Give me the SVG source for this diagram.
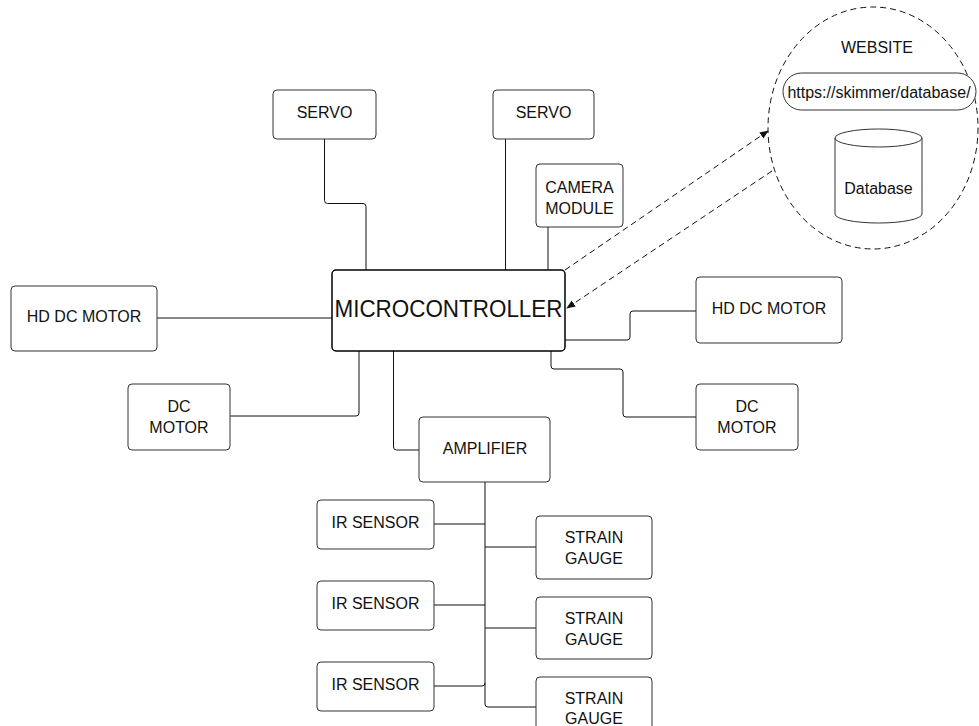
<svg xmlns="http://www.w3.org/2000/svg" width="979" height="726" viewBox="0 0 979 726">
<style>
.box{fill:#fff;stroke:#333;stroke-width:1}
.mc{fill:#fff;stroke:#000;stroke-width:1.5}
.t{font-family:"Liberation Sans",Arial,sans-serif;font-size:16px;fill:#111;text-anchor:middle}
.ln{fill:none;stroke:#111;stroke-width:1;stroke-linejoin:round}
.dash{fill:none;stroke:#111;stroke-width:1;stroke-dasharray:6 4}
</style>
<defs>
<marker id="ah" viewBox="0 0 10 10" refX="9" refY="5" markerWidth="9" markerHeight="9" markerUnits="userSpaceOnUse" orient="auto">
<path d="M0,1 L10,5 L0,9 Z" fill="#111"/>
</marker>
</defs>
<rect width="979" height="726" fill="#fff"/>
<g id="connectors">
<path class="ln" d="M324.5,139 V200.5 Q324.5,203.5 327.5,203.5 H363 Q366,203.5 366,206.5 V270"/>
<path class="ln" d="M505.5,139 V270"/>
<path class="ln" d="M548,227 V270"/>
<path class="ln" d="M157,318 H332"/>
<path class="ln" d="M359,351 V413 Q359,416 356,416 H230"/>
<path class="ln" d="M393.5,351 V447 Q393.5,450 396.5,450 H419"/>
<path class="ln" d="M565,340 H627 Q630,340 630,337 V314 Q630,311 633,311 H696"/>
<path class="ln" d="M551,351 V366 Q551,369 554,369 H620 Q623,369 623,372 V414 Q623,417 626,417 H696"/>
<path class="ln" d="M485,482 V683 Q485,686 482,686 H434"/>
<path class="ln" d="M485,683 V704 Q485,707 488,707 H536"/>
<path class="ln" d="M434,524 H485"/>
<path class="ln" d="M434,605 H485"/>
<path class="ln" d="M485,547 H536"/>
<path class="ln" d="M485,628 H536"/>
<path class="dash" d="M565,270 L768,131" marker-end="url(#ah)"/>
<path class="dash" d="M772,171 L567,308" marker-end="url(#ah)"/>
</g>
<g id="servo1"><rect class="box" x="273" y="90" width="103" height="49" rx="4"/><text class="t" x="324.5" y="118">SERVO</text></g>
<g id="servo2"><rect class="box" x="493" y="90" width="101" height="49" rx="4"/><text class="t" x="543.5" y="118">SERVO</text></g>
<g id="camera"><rect class="box" x="536" y="164" width="87" height="63" rx="4"/><text class="t" x="579.5" y="193">CAMERA</text><text class="t" x="579.5" y="214">MODULE</text></g>
<g id="microcontroller"><rect class="mc" x="332" y="270" width="233" height="81" rx="4"/><text class="t" x="448.5" y="316.5" style="font-size:24px" textLength="228" lengthAdjust="spacingAndGlyphs">MICROCONTROLLER</text></g>
<g id="hddc-left"><rect class="box" x="11" y="286" width="146" height="65" rx="4"/><text class="t" x="84" y="322">HD DC MOTOR</text></g>
<g id="dc-left"><rect class="box" x="128" y="384" width="102" height="66" rx="4"/><text class="t" x="179" y="412">DC</text><text class="t" x="179" y="433">MOTOR</text></g>
<g id="hddc-right"><rect class="box" x="696" y="277" width="146" height="66" rx="4"/><text class="t" x="769" y="314">HD DC MOTOR</text></g>
<g id="dc-right"><rect class="box" x="696" y="384" width="102" height="66" rx="4"/><text class="t" x="747" y="412">DC</text><text class="t" x="747" y="433">MOTOR</text></g>
<g id="amplifier"><rect class="box" x="419" y="417" width="131" height="65" rx="4"/><text class="t" x="485" y="454">AMPLIFIER</text></g>
<g id="ir1"><rect class="box" x="317" y="500" width="117" height="49" rx="4"/><text class="t" x="375.5" y="528">IR SENSOR</text></g>
<g id="ir2"><rect class="box" x="317" y="581" width="117" height="49" rx="4"/><text class="t" x="375.5" y="609">IR SENSOR</text></g>
<g id="ir3"><rect class="box" x="317" y="662" width="117" height="49" rx="4"/><text class="t" x="375.5" y="690">IR SENSOR</text></g>
<g id="strain1"><rect class="box" x="536" y="516" width="116" height="63" rx="4"/><text class="t" x="594" y="543">STRAIN</text><text class="t" x="594" y="564">GAUGE</text></g>
<g id="strain2"><rect class="box" x="536" y="597" width="116" height="62" rx="4"/><text class="t" x="594" y="624">STRAIN</text><text class="t" x="594" y="645">GAUGE</text></g>
<g id="strain3"><rect class="box" x="536" y="677" width="116" height="62" rx="4"/><text class="t" x="594" y="704">STRAIN</text><text class="t" x="594" y="724">GAUGE</text></g>
<g id="website">
<ellipse cx="873" cy="128" rx="105" ry="121" fill="none" stroke="#111" stroke-width="1" stroke-dasharray="6 4"/>
<text class="t" x="877" y="53">WEBSITE</text>
<rect class="box" x="783" y="73" width="193" height="37" rx="18.5"/>
<text class="t" x="879" y="98">https://skimmer/database/</text>
<path class="box" d="M835,138 V214 A43.5,9 0 0 0 922,214 V138 A43.5,9 0 0 0 835,138 A43.5,9 0 0 0 922,138"/>
<text class="t" x="878.5" y="194">Database</text>
</g>
</svg>
